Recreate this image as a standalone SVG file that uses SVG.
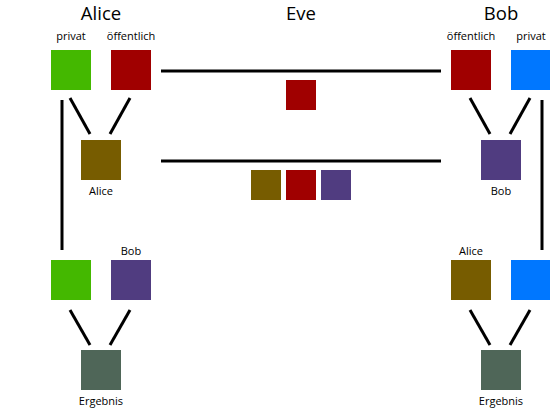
<svg xmlns="http://www.w3.org/2000/svg" width="550" height="410" viewBox="0 0 550 410">
<style>
text{font-family:"Open Sans","DejaVu Sans",sans-serif;fill:#000;text-anchor:middle}
.t{font-size:18.5px}
.s{font-size:11px}
.c line{stroke:#000;stroke-width:3}
.g{fill:#44b800}.r{fill:#a00000}.b{fill:#0077ff}.br{fill:#775c00}.p{fill:#503c80}.e{fill:#4f6658}
</style>
<rect width="550" height="410" fill="#fff"/>
<text class="t" x="101" y="20">Alice</text>
<text class="t" x="301" y="20">Eve</text>
<text class="t" x="501" y="20">Bob</text>
<g class="c" id="connectors">
<line x1="161" y1="71" x2="441" y2="71"/>
<line x1="161" y1="161" x2="441" y2="161"/>
<line x1="62" y1="100" x2="62" y2="250"/>
<line x1="542" y1="100" x2="542" y2="250"/>
<line x1="70" y1="98" x2="90" y2="134"/>
<line x1="130" y1="98" x2="110" y2="134"/>
<line x1="470" y1="98" x2="490" y2="134"/>
<line x1="530" y1="98" x2="510" y2="134"/>
<line x1="70" y1="310" x2="90" y2="345"/>
<line x1="130" y1="310" x2="110" y2="345"/>
<line x1="470" y1="310" x2="490" y2="345"/>
<line x1="530" y1="310" x2="510" y2="345"/>
</g>
<g id="alice-priv"><text class="s" x="71" y="40">privat</text><rect class="g" x="51" y="50" width="40" height="40"/></g>
<g id="alice-pub"><text class="s" x="131" y="40">öffentlich</text><rect class="r" x="111" y="50" width="40" height="40"/></g>
<g id="alice-key"><rect class="br" x="81" y="140" width="40" height="40"/><text class="s" x="101" y="195">Alice</text></g>
<g id="alice-priv2"><rect class="g" x="51" y="260" width="40" height="40"/></g>
<g id="alice-bobkey"><text class="s" x="131" y="255">Bob</text><rect class="p" x="111" y="260" width="40" height="40"/></g>
<g id="alice-result"><rect class="e" x="81" y="350" width="40" height="40"/><text class="s" x="101" y="405">Ergebnis</text></g>
<g id="eve-pub"><rect class="r" x="286" y="80" width="30" height="30"/></g>
<g id="eve-keys"><rect class="br" x="251" y="170" width="30" height="30"/><rect class="r" x="286" y="170" width="30" height="30"/><rect class="p" x="321" y="170" width="30" height="30"/></g>
<g id="bob-pub"><text class="s" x="471" y="40">öffentlich</text><rect class="r" x="451" y="50" width="40" height="40"/></g>
<g id="bob-priv"><text class="s" x="531" y="40">privat</text><rect class="b" x="511" y="50" width="40" height="40"/></g>
<g id="bob-key"><rect class="p" x="481" y="140" width="40" height="40"/><text class="s" x="501" y="195">Bob</text></g>
<g id="bob-alicekey"><text class="s" x="471" y="255">Alice</text><rect class="br" x="451" y="260" width="40" height="40"/></g>
<g id="bob-priv2"><rect class="b" x="511" y="260" width="40" height="40"/></g>
<g id="bob-result"><rect class="e" x="481" y="350" width="40" height="40"/><text class="s" x="501" y="405">Ergebnis</text></g>
</svg>
